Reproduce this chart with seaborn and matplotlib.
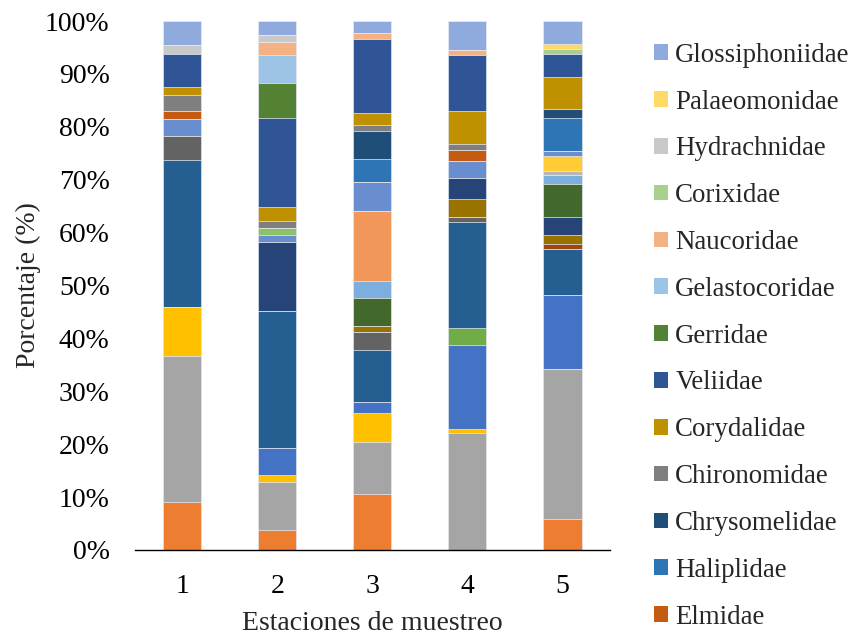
import numpy as np
import pandas as pd
import matplotlib
matplotlib.use("Agg")
import matplotlib.pyplot as plt
from matplotlib.patches import Patch
import seaborn as sns

# Sampling stations (x axis)
stations = ["1", "2", "3", "4", "5"]

# Taxa in stacking order, bottom to top; only the last 13 appear in the legend
taxa = [
    "Taxón 01", "Taxón 02", "Taxón 03", "Taxón 04", "Taxón 05", "Taxón 06",
    "Taxón 07", "Taxón 08", "Taxón 09", "Taxón 10", "Taxón 11", "Taxón 12",
    "Taxón 13", "Taxón 14", "Taxón 15", "Taxón 16", "Taxón 17",
    "Elmidae", "Haliplidae", "Chrysomelidae", "Chironomidae", "Corydalidae",
    "Veliidae", "Gerridae", "Gelastocoridae", "Naucoridae", "Corixidae",
    "Hydrachnidae", "Palaeomonidae", "Glossiphoniidae",
]

colors = [
    "#ED7D31", "#A5A5A5", "#FFC000", "#4472C4", "#70AD47", "#255E91",
    "#636363", "#9E480E", "#997300", "#264478", "#43682B", "#7CAFDD",
    "#F1975A", "#B7B7B7", "#FFCD33", "#698ED0", "#8CC168",
    "#C55A11", "#2E75B6", "#1F4E79", "#7F7F7F", "#BF9000",
    "#2F5597", "#548235", "#9DC3E6", "#F4B183", "#A9D18E",
    "#C9C9C9", "#FFD966", "#8FAADC",
]

# Relative abundance (%) of each taxon per station, stations 1..5
pct = {
    "Taxón 01": [9.0, 3.7, 10.6, 0.0, 5.9],
    "Taxón 02": [27.7, 9.1, 9.8, 22.0, 28.2],
    "Taxón 03": [9.3, 1.3, 5.4, 0.9, 0.0],
    "Taxón 04": [0.0, 5.2, 2.2, 15.8, 14.0],
    "Taxón 05": [0.0, 0.0, 0.0, 3.2, 0.0],
    "Taxón 06": [27.8, 26.0, 9.8, 20.0, 8.7],
    "Taxón 07": [4.5, 0.0, 3.3, 1.0, 0.0],
    "Taxón 08": [0.0, 0.0, 0.0, 0.0, 1.0],
    "Taxón 09": [0.0, 0.0, 1.1, 3.3, 1.6],
    "Taxón 10": [0.0, 13.0, 0.0, 4.1, 3.5],
    "Taxón 11": [0.0, 0.0, 5.4, 0.0, 6.2],
    "Taxón 12": [0.0, 0.0, 3.2, 0.0, 1.7],
    "Taxón 13": [0.0, 0.0, 13.2, 0.0, 0.0],
    "Taxón 14": [0.0, 0.0, 0.0, 0.0, 0.7],
    "Taxón 15": [0.0, 0.0, 0.0, 0.0, 2.9],
    "Taxón 16": [3.2, 1.3, 5.5, 3.2, 0.9],
    "Taxón 17": [0.0, 1.4, 0.0, 0.0, 0.0],
    "Elmidae": [1.5, 0.0, 0.0, 2.1, 0.0],
    "Haliplidae": [0.0, 0.0, 4.3, 0.0, 6.2],
    "Chrysomelidae": [0.0, 0.0, 5.3, 0.0, 1.7],
    "Chironomidae": [3.1, 1.3, 1.1, 1.1, 0.0],
    "Corydalidae": [1.5, 2.6, 2.2, 6.2, 6.1],
    "Veliidae": [6.2, 16.9, 14.0, 10.5, 4.3],
    "Gerridae": [0.0, 6.6, 0.0, 0.0, 0.0],
    "Gelastocoridae": [0.0, 5.3, 0.0, 0.0, 0.0],
    "Naucoridae": [0.0, 2.5, 1.2, 1.1, 0.0],
    "Corixidae": [0.0, 0.0, 0.0, 0.0, 0.9],
    "Hydrachnidae": [1.6, 1.3, 0.0, 0.0, 0.0],
    "Palaeomonidae": [0.0, 0.0, 0.0, 0.0, 1.0],
    "Glossiphoniidae": [4.6, 2.6, 2.2, 5.4, 4.3],
}
legend_taxa = taxa[17:]

sns.set_theme(style="white")
plt.rcParams["font.family"] = ["Liberation Serif", "DejaVu Serif"]

# Long table, scaled so each station adds up to 100 %
df = pd.DataFrame(
    [(st, tx, pct[tx][i]) for tx in taxa for i, st in enumerate(stations)],
    columns=["station", "taxon", "pct"],
)
df["pct"] = df["pct"] / df.groupby("station")["pct"].transform("sum") * 100
df["cum"] = df.groupby("station")["pct"].cumsum()

fig = plt.figure(figsize=(8.58, 6.37), dpi=100)
ax = fig.add_axes([0.157, 0.1366, 0.554, 0.8304])

# Stacked columns: draw cumulative totals from the top taxon down
for tx, col in reversed(list(zip(taxa, colors))):
    sub = df[df["taxon"] == tx]
    sns.barplot(data=sub, x="station", y="cum", order=stations, color=col,
                saturation=1, width=0.4, edgecolor="#e8ecf4", linewidth=0.5,
                errorbar=None, ax=ax)

ax.set_xlim(-0.5, 4.5)
ax.set_ylim(0, 100)
ax.set_yticks(np.arange(0, 101, 10))
ax.set_yticklabels([f"{v}%" for v in range(0, 101, 10)])
ax.tick_params(axis="both", length=0, labelsize=20, colors="black")
ax.tick_params(axis="y", pad=18)
ax.tick_params(axis="x", pad=17)
ax.set_xlabel("Estaciones de muestreo", fontsize=20, labelpad=9)
ax.set_ylabel("Porcentaje (%)", fontsize=20, labelpad=3)
for side in ["top", "right", "left"]:
    ax.spines[side].set_visible(False)
ax.spines["bottom"].set_color("black")
ax.spines["bottom"].set_linewidth(1.0)
ax.grid(False)

cmap = dict(zip(taxa, colors))
handles = [Patch(facecolor=cmap[t], edgecolor="none", label=t)
           for t in reversed(legend_taxa)]
fig.legend(handles=handles, loc="upper left", bbox_to_anchor=(0.7625, 0.933),
           frameon=False, fontsize=19.4, handlelength=0.52, handleheight=0.52,
           handletextpad=0.26, labelspacing=0.81, borderaxespad=0,
           borderpad=0)

fig.savefig("out.png", dpi=100)
